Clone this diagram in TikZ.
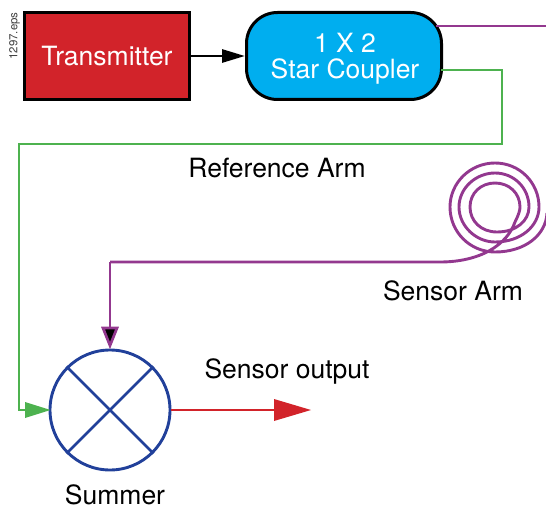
\documentclass[tikz,border=0pt]{standalone}
\usepackage{fontspec}
\setmainfont{TeX Gyre Heros}
\usetikzlibrary{arrows.meta}
\definecolor{cred}{HTML}{D2232A}
\definecolor{ccyan}{HTML}{00AEEF}
\definecolor{cgreen}{HTML}{4DB24F}
\definecolor{cpurple}{HTML}{93388F}
\definecolor{cblue}{HTML}{21409A}
\tikzset{
  lbl/.style={font=\fontsize{26.5}{30}\selectfont,inner sep=0pt,text=black},
  wlbl/.style={lbl,text=white},
  conn/.style={line width=2.9pt},
}
\begin{document}
\begin{tikzpicture}[x=1pt,y=-1pt]
\useasboundingbox (0,0) rectangle (546,508);
\clip (0,0) rectangle (546,508);
\node[draw=black,fill=cred,line width=3pt,minimum width=165pt,minimum height=87pt,inner sep=0pt] (tx) at (107,56) {};
\node[wlbl] (txl) at (107,56) {Transmitter};
\node[draw=black,fill=ccyan,line width=3pt,minimum width=195pt,minimum height=87pt,inner sep=0pt,rounded corners=31pt] (cp) at (344,56) {};
\node[wlbl,align=center] (cpl) at (345,59) {1 X 2\\[-4pt]Star Coupler};
\node[font=\fontsize{11.5}{14}\selectfont,rotate=90,inner sep=0pt,text=black!75] (eps) at (14.5,36) {1297.eps};
\node[draw=cblue,line width=2.9pt,circle,minimum size=120pt,inner sep=0pt] (sum) at (110,410) {};
\draw[cblue,line width=2.7pt] (sum.45) -- (sum.225) (sum.135) -- (sum.315);
\coordinate (g1) at (502,70);
\coordinate (g2) at (502,144);
\coordinate (g3) at (19,144);
\coordinate (g4) at (19,410);
\coordinate (gs) at (441,70);
\coordinate (ps) at (436,26);
\coordinate (pe) at (546,26);
\coordinate (pk) at (110,262);
\coordinate (oe) at (311,410);
\draw[line width=2.9pt,-{Triangle[length=23pt,width=13pt,fill=black]}] (tx.east) -- (cp.west);
\draw[conn,cgreen,line join=miter] (gs) -- (g1) -- (g2) -- (g3) -- (g4) -- (26,410);
\fill[cgreen] (50.5,410) -- (25,402) -- (25,418) -- cycle;
\draw[conn,cpurple] (ps) -- (pe);
\draw[conn,cpurple,line join=round]
  (pk) -- (440,262) .. controls (480,262) and (507,245) .. (515,222)
  .. controls (519,214) and (520,210) .. (520,207)
  .. controls (520,193) and (509,183) .. (495,183)
  .. controls (481,183) and (470,193) .. (470,207)
  .. controls (470,221) and (481,232) .. (497,232)
  .. controls (516,232) and (529,221) .. (529,207)
  .. controls (529,188) and (514,173) .. (495,173)
  .. controls (476,173) and (459,188) .. (459,207)
  .. controls (459,226) and (476,242) .. (495,242)
  .. controls (521,242) and (539,226) .. (539,207)
  .. controls (539,183) and (520,163) .. (495,163)
  .. controls (470,163) and (450,183) .. (450,207)
  .. controls (450,232) and (470,252) .. (495,252)
  .. controls (525,252) and (546,235) .. (547,213);
\draw[conn,cpurple] (pk) -- (110,328);
\draw[cpurple,fill=black,line width=2.7pt,line join=miter] (sum.north) ++(0,-3) -- (103,328) -- (117,328) -- cycle;
\draw[conn,cred] (sum.east) -- (276,410);
\fill[cred] (oe) -- (274,399) -- (274,421) -- cycle;
\node[lbl] (ra) at (277,168) {Reference Arm};
\node[lbl] (sa) at (453,291) {Sensor Arm};
\node[lbl] (so) at (287,371) {Sensor output};
\node[lbl] (su) at (115,495) {Summer};
\end{tikzpicture}
\end{document}
